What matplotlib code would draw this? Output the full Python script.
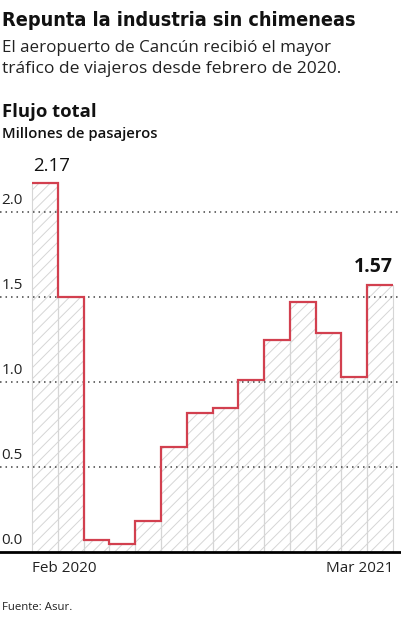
import numpy as np
import matplotlib.pyplot as plt
from matplotlib import font_manager
from matplotlib.transforms import blended_transform_factory

# monthly passengers, Feb 2020 .. Mar 2021 (millions)
months = ["Feb 2020", "Mar 2020", "Abr 2020", "May 2020", "Jun 2020", "Jul 2020",
          "Ago 2020", "Sep 2020", "Oct 2020", "Nov 2020", "Dic 2020", "Ene 2021",
          "Feb 2021", "Mar 2021"]
pasajeros = [2.17, 1.50, 0.07, 0.05, 0.18, 0.62, 0.82, 0.85, 1.01, 1.25, 1.47, 1.29, 1.03, 1.57]
yticks = [0.0, 0.5, 1.0, 1.5, 2.0]
ytick_labels = ["0.0", "0.5", "1.0", "1.5", "2.0"]

W, H = 401, 620
RED = "#d2404f"

names = {f.name for f in font_manager.fontManager.ttflist}
body = "Open Sans" if "Open Sans" in names else "DejaVu Sans"
plt.rcParams["font.family"] = [body, "DejaVu Sans"]
plt.rcParams["hatch.linewidth"] = 0.7

# look for a condensed bold face for the headline
title_font = None
for f in font_manager.fontManager.ttflist:
    low = f.fname.lower()
    if ("condensed" in low or "narrow" in low) and f.weight in (600, 700, "bold"):
        title_font = font_manager.FontProperties(fname=f.fname)
        break
if title_font is None:
    title_font = font_manager.FontProperties(family="Roboto", weight="bold")


def fx(x):
    return x / W


def fy(y):
    return 1 - y / H


fig = plt.figure(figsize=(W / 100, H / 100), dpi=100)
renderer = fig.canvas.get_renderer()


def fit(t, width_px):
    # scale font size so the text spans the measured width of the reference
    w = t.get_window_extent(renderer).width
    t.set_fontsize(t.get_fontsize() * width_px / w)
    return t


# axes in pixel layout: baseline at y=552, bars from x=32 to x=393
bw = (393 - 32) / len(pasajeros)
base_px, top_px = 552, 150
ax = fig.add_axes([0, fy(base_px), 1, (base_px - top_px) / H])
ax.set_xlim(-32 / bw, (W - 32) / bw)
ax.set_ylim(0, (base_px - top_px) / 170)
ax.axis("off")

x = np.arange(len(pasajeros))
ax.bar(x, pasajeros, width=1, align="edge", facecolor="none",
       edgecolor="#d6d6d6", hatch="///", linewidth=0.8, zorder=1)

for t in yticks[1:]:
    ax.axhline(t, color="#444444", linestyle=(0, (1, 2.6)), linewidth=1.1, zorder=2)
ax.axhline(0, color="black", linewidth=2, zorder=4, clip_on=False)

ax.stairs(pasajeros, np.arange(len(pasajeros) + 1), baseline=None,
          color=RED, linewidth=1.6, zorder=3)

tr = blended_transform_factory(ax.transAxes, ax.transData)
for t, lab in zip(yticks, ytick_labels):
    ax.text(0.004, t + 0.025, lab, transform=tr, fontsize=11,
            color="#222222", ha="left", va="bottom")

ax.text(0.05, pasajeros[0] + 0.05, f"{pasajeros[0]:.2f}", fontsize=13.5,
        ha="left", va="bottom", color="#111111")
ax.text(len(pasajeros), pasajeros[-1] + 0.05, f"{pasajeros[-1]:.2f}", fontsize=14,
        fontweight="bold", ha="right", va="bottom", color="#111111")

fig.text(fx(32), fy(569), months[0], fontsize=11, ha="left", va="center", color="#222222")
fig.text(fx(393), fy(569), months[-1], fontsize=11, ha="right", va="center", color="#222222")

# titles
fit(fig.text(fx(2), fy(20), "Repunta la industria sin chimeneas", fontproperties=title_font,
             fontsize=20, ha="left", va="center", color="#111111"), 355)
fit(fig.text(fx(2), fy(48), "El aeropuerto de Cancún recibió el mayor", fontsize=10.5,
             ha="left", va="center", color="#222222"), 331)
fit(fig.text(fx(2), fy(69), "tráfico de viajeros desde febrero de 2020.", fontsize=10.5,
             ha="left", va="center", color="#222222"), 341)
fit(fig.text(fx(2), fy(112), "Flujo total", fontsize=12.5, fontweight="bold",
             ha="left", va="center", color="#111111"), 94)
fit(fig.text(fx(2), fy(134), "Millones de pasajeros", fontsize=9.5, fontweight="semibold",
             ha="left", va="center", color="#111111"), 156)
fig.text(fx(2), fy(607), "Fuente: Asur.", fontsize=8.2, ha="left", va="center", color="#222222")

fig.savefig("out.png", dpi=100)
